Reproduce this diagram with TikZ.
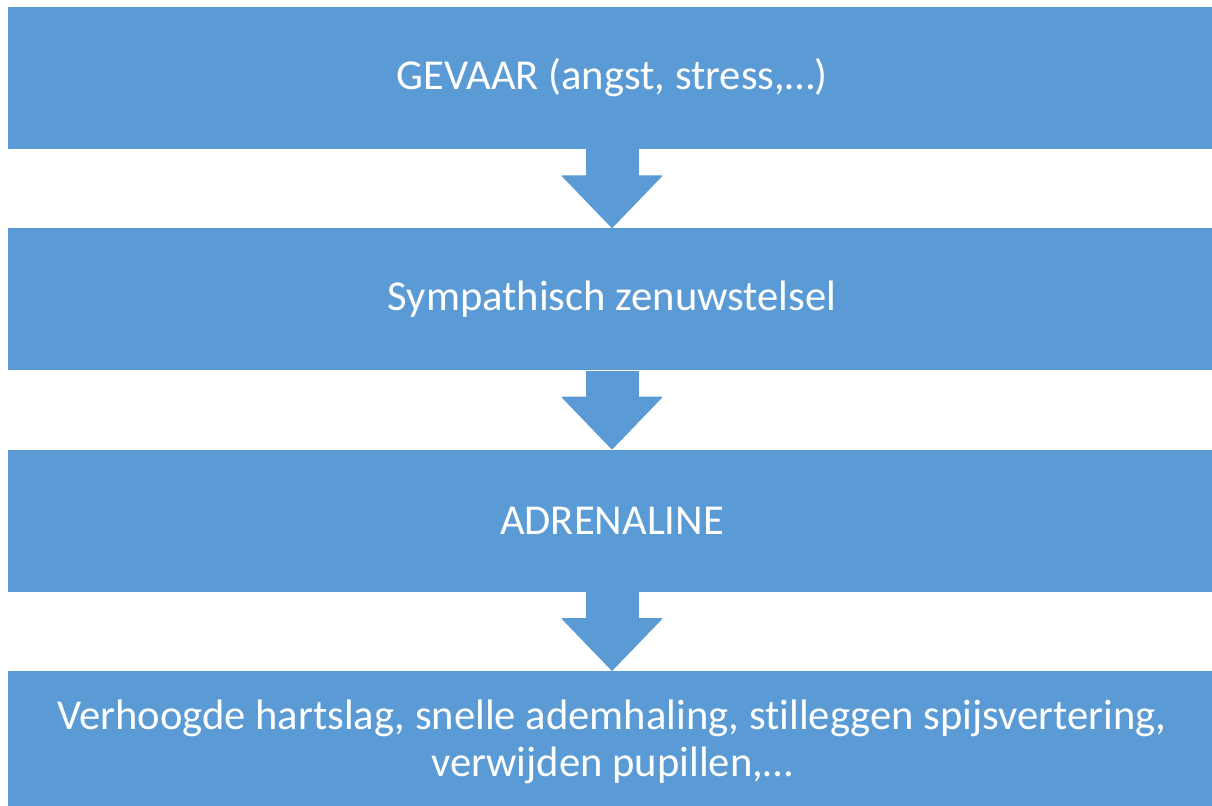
\documentclass[tikz,border=0pt]{standalone}
\usepackage{fontspec}
\setmainfont{Carlito}[Ligatures=CommonOff]
\usepackage{tikz}
\usetikzlibrary{arrows.meta}
\usetikzlibrary{positioning}

\definecolor{stepblue}{HTML}{5B9BD5}

\begin{document}
\begin{tikzpicture}[node distance=39.3pt,
                        stepbox/.style={rectangle,fill=stepblue,text=white,minimum width=604pt,
                        minimum height=71pt,inner sep=0pt,align=center,font=\fontsize{21.3}{23.6}\selectfont}]

        \useasboundingbox (0,0) rectangle (606pt,-402.5pt);

        \node[stepbox] (danger) at (306pt,-39pt) {GEVAAR (angst, stress,…)};
        \node[stepbox] (nerves) [below=of danger] {Sympathisch zenuwstelsel};
        \node[stepbox] (hormone) [below=of nerves] {ADRENALINE};
        \node[stepbox] (effects) [below=of hormone] {Verhoogde hartslag, snelle ademhaling, stilleggen spijsvertering,\\verwijden pupillen,…};

        \begin{scope}[line width=26.5pt,draw=stepblue,
                      >={Triangle[width=51pt,length=26.5pt,line width=0.6pt,round,fill=stepblue]}]
            \path [->] (danger) edge (nerves);
            \path [->] (nerves) edge (hormone);
            \path [->] (hormone) edge (effects);
        \end{scope}
    \end{tikzpicture}
\end{document}
